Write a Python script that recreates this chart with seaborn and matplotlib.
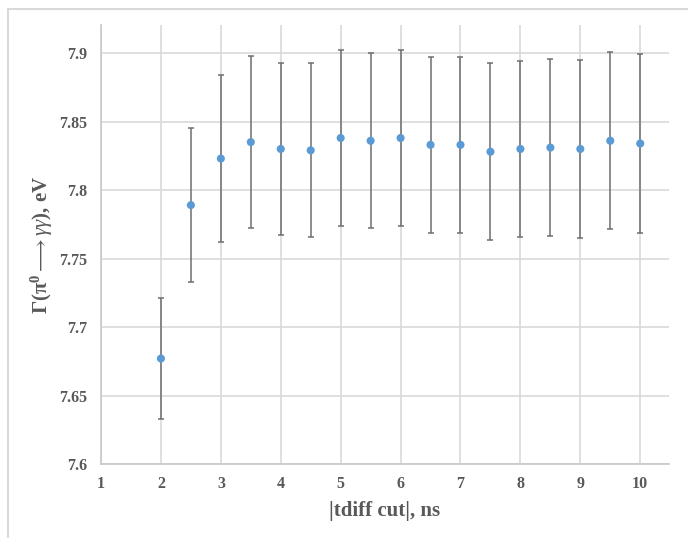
import numpy as np
import pandas as pd
import matplotlib
matplotlib.use("Agg")
import matplotlib.pyplot as plt
from matplotlib.patches import Rectangle
import seaborn as sns

# ============================================================
# Data
# ============================================================

tdiff_cut = [2, 2.5, 3, 3.5, 4, 4.5, 5, 5.5, 6, 6.5, 7, 7.5, 8, 8.5, 9, 9.5, 10]

gamma_ev = [7.677, 7.789, 7.823, 7.835, 7.830, 7.829, 7.838, 7.836, 7.838,
            7.833, 7.833, 7.828, 7.830, 7.831, 7.830, 7.836, 7.834]

gamma_err = [0.044, 0.056, 0.061, 0.063, 0.063, 0.0635, 0.064, 0.064, 0.064,
             0.0643, 0.064, 0.0645, 0.0644, 0.0646, 0.0647, 0.0647, 0.065]

y_ticks = [7.6, 7.65, 7.7, 7.75, 7.8, 7.85, 7.9]
y_tick_labels = ["7.6", "7.65", "7.7", "7.75", "7.8", "7.85", "7.9"]
x_ticks = [1, 2, 3, 4, 5, 6, 7, 8, 9, 10]

df = pd.DataFrame({"cut": tdiff_cut, "gamma": gamma_ev, "err": gamma_err})

# ============================================================
# Style
# ============================================================

sns.set_style("white")
plt.rcParams["font.family"] = ["Liberation Serif", "DejaVu Serif"]
plt.rcParams["mathtext.fontset"] = "custom"
plt.rcParams["mathtext.rm"] = "Liberation Serif:bold"
plt.rcParams["mathtext.bf"] = "Liberation Serif:bold"
plt.rcParams["mathtext.it"] = "Liberation Serif:italic"

TEXT_GRAY = "#595959"
GRID_GRAY = "#d9d9d9"
POINT_BLUE = "#5b9bd5"

fig = plt.figure(figsize=(6.88, 5.38), dpi=100)
ax = fig.add_axes([101 / 688, 1 - 464 / 538, (669 - 101) / 688, (464 - 25) / 538])

# outer chart frame
fig.patches.append(
    Rectangle((8 / 688, -0.2), 1.2, 1.2 - 9 / 538,
              transform=fig.transFigure, fill=False,
              edgecolor=GRID_GRAY, linewidth=1.5, zorder=0)
)

# ============================================================
# Plot
# ============================================================

ax.errorbar(
    df["cut"], df["gamma"], yerr=df["err"],
    fmt="none", ecolor="#6e6e6e", elinewidth=1.1,
    capsize=2.3, capthick=1.1, zorder=2
)

sns.scatterplot(
    data=df, x="cut", y="gamma", ax=ax,
    color=POINT_BLUE, s=34, edgecolor="none", zorder=3
)

ax.set_xlim(1, 10.48)
ax.set_ylim(7.6, 7.9205)

ax.set_xticks(x_ticks)
ax.set_yticks(y_ticks)
ax.set_yticklabels(y_tick_labels)

ax.grid(True, color=GRID_GRAY, linewidth=1.2)
ax.set_axisbelow(True)

for side in ["top", "right"]:
    ax.spines[side].set_visible(False)
for side in ["left", "bottom"]:
    ax.spines[side].set_color("#c8c8c8")
    ax.spines[side].set_linewidth(1.2)

ax.tick_params(axis="both", length=0, labelsize=11.5, labelcolor=TEXT_GRAY)
ax.tick_params(axis="y", pad=10)
ax.tick_params(axis="x", pad=9)
for label in ax.get_xticklabels() + ax.get_yticklabels():
    label.set_fontweight("bold")

ax.set_xlabel("|tdiff cut|, ns", fontsize=15, fontweight="bold",
              color=TEXT_GRAY, labelpad=6)
ax.set_ylabel(r"$\mathbf{\Gamma(\pi^{0}}\longrightarrow\gamma\gamma\mathbf{)}$, eV",
              fontsize=15, fontweight="bold", color=TEXT_GRAY, labelpad=3)

fig.savefig("out.png", dpi=100)
plt.close(fig)
